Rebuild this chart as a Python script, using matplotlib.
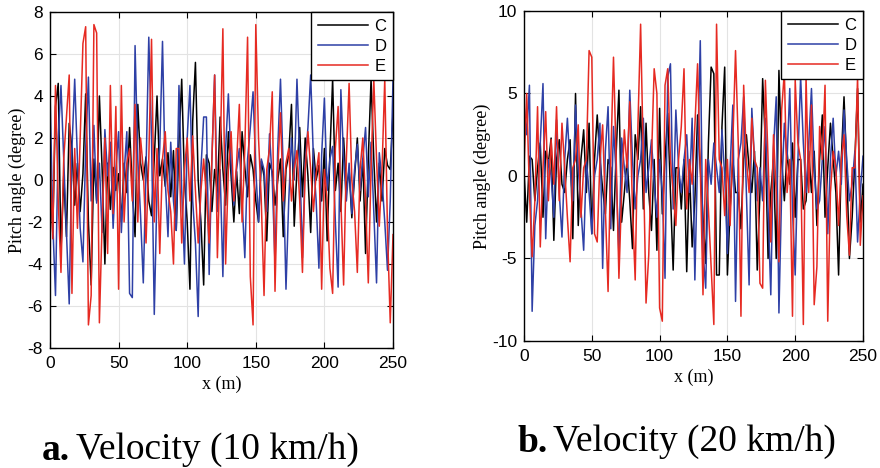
import numpy as np
import matplotlib
matplotlib.use("Agg")
import matplotlib.pyplot as plt

# distance along the track (m), one sample every 2 m
x = np.arange(0, 251, 2)

# ---- a. Velocity (10 km/h) ----
c10 = [0.5, -2.5, 3.5, 4.6, -3.4, 0.2, -2.7, 2.7, 1.5, -1.2, 0.8, -1.5, 0.3, 4.1, -2.0, -5.0,
       1.0, -1.0, 4.0, 0.5, -4.0, 0.8, -1.4, 0.6, -0.5, 0.3, -2.0, 0.8, -0.6, 2.5, -0.5, -2.7,
       3.6, 0.8, 0.0, 1.1, -1.0, -1.7, 1.0, 4.0, 0.2, 1.0, -0.3, 1.3, -0.8, 1.4, -2.4, 1.8,
       4.8, 0.0, -2.0, -5.2, 2.8, 5.6, 0.0, -2.0, -5.0, 1.2, 0.8, -1.5, 0.5, -0.6, 3.0, 0.5,
       -1.2, 2.3, 0.2, -2.0, 0.4, -1.6, 2.3, 0.6, -0.8, 1.2, 0.5, -1.0, -2.0, 0.9, 0.2, -2.9,
       0.8, 0.4, -1.2, 0.0, 1.0, -2.7, 0.5, 1.2, 3.6, -2.2, 0.5, 2.5, -0.8, 2.0, 0.2, -2.5,
       1.5, 0.0, 0.7, -1.0, 1.5, -2.9, 1.2, 4.8, -0.5, 0.8, -1.5, 2.0, -0.5, 0.5, -1.8, 0.2,
       2.0, -1.0, 1.0, -3.5, 1.0, 4.8, 1.0, -2.0, 0.8, -1.0, 1.5, 0.7, 0.5, 3.2]
d10 = [4.3, -2.0, -5.5, 2.0, 4.5, 1.0, -2.5, -5.9, 1.5, 4.8, 1.0, -2.3, -3.9, 1.5, 4.9, -1.0,
       2.6, -1.1, 0.8, -2.5, 2.4, 0.2, 1.8, -2.3, 0.5, 2.3, -2.5, 0.3, 2.3, -5.4, -5.6, 6.4,
       1.0, -1.7, -4.9, 0.5, 6.8, 2.0, -6.4, -0.5, 1.5, 6.6, 0.0, -2.7, 1.8, -1.0, -2.4, 4.5,
       -0.5, -4.0, 2.0, 4.5, -1.0, -3.0, -6.5, 0.5, 3.0, 3.0, -4.5, 1.0, 5.0, -1.5, 0.5, -4.6,
       1.5, 4.1, 0.8, -1.2, 0.5, 1.5, -1.0, -3.7, 1.0, 2.5, 4.2, 0.5, -2.0, 1.0, 0.5, -1.5,
       2.2, 0.0, -4.0, 1.5, 4.8, 0.5, -5.2, -1.0, 2.0, 0.0, 4.8, 1.0, -3.7, 0.8, 2.5, 5.0,
       1.0, -1.0, -4.2, 1.2, 3.9, -0.5, 1.0, 1.6, -2.0, -5.1, 4.3, 1.0, -1.0, 0.8, -1.6, 0.5,
       1.7, -0.5, 1.0, 2.5, -0.8, 1.8, -1.5, -4.9, 1.3, 0.0, -2.0, -4.3, -1.0, 4.8]
e10 = [1.2, -2.8, 4.5, -1.0, -4.4, 1.0, 3.0, 5.0, -5.4, 1.5, -2.3, 2.0, 6.5, 7.3, -6.9, -5.5,
       7.4, 7.0, -6.8, -2.0, 2.0, -3.5, 4.5, -1.6, 3.5, -5.2, 4.5, -2.0, 0.8, 1.5, -1.0, 3.6,
       -2.0, 2.0, 0.5, -3.0, 1.0, 6.7, -2.0, 1.5, -3.5, 1.0, 2.3, -0.5, -1.5, -4.0, 1.5, 1.5,
       -3.0, 0.5, 2.0, -1.0, 2.1, -0.5, -3.0, -0.5, 1.0, -0.8, -3.0, 1.0, 5.0, -3.7, 1.0, 7.2,
       -4.0, 0.5, 2.3, -1.0, 0.8, 3.6, -2.0, 1.5, 6.8, -4.6, -6.9, 7.4, 2.0, -1.0, -5.5, 0.5,
       1.5, 4.2, -5.3, 0.5, 3.2, -1.0, 0.8, 1.5, -1.0, 0.5, 1.4, -1.0, -4.4, 0.5, 2.3, 0.5,
       -1.5, 0.3, 1.3, -5.2, 0.5, -1.0, -4.2, -5.4, 1.5, 3.5, -1.0, -5.0, 1.0, 4.6, 0.0, -1.5,
       -4.4, 0.5, 2.0, -1.0, -4.9, 0.5, 4.8, 1.0, -2.2, 0.5, 4.8, -2.5, -6.8, -2.6]

# ---- b. Velocity (20 km/h) ----
c20 = [0.3, -2.8, 1.2, 1.0, -1.5, 0.5, 2.0, -2.5, 1.5, 0.8, 2.3, -3.9, 1.0, 2.2, -0.5, -1.0,
       1.0, 2.2, -3.8, 5.0, -3.0, 1.0, 2.8, -1.0, 3.2, -3.5, 1.0, 3.7, 1.0, -0.8, -2.3, 1.0,
       0.5, -3.3, 1.5, 5.2, -2.8, -1.0, 1.0, -1.5, -4.4, 2.5, 1.0, 4.2, -2.0, 3.2, -1.0, -3.3,
       1.0, -4.5, 4.1, -2.3, 1.0, 3.8, -1.0, -5.7, 0.5, 0.5, -2.0, 1.0, -5.8, 0.5, -4.3, -1.5,
       3.7, 0.5, -2.5, -5.3, 2.0, 6.6, 6.2, -6.0, -6.0, 3.0, 6.6, -6.0, -2.0, 1.0, -1.0, -1.0,
       -3.2, 1.0, 2.5, 0.5, -1.0, 1.5, -5.7, -1.0, 5.9, 2.0, -5.0, -1.0, 1.0, -5.0, 6.4, 1.0,
       -1.5, 1.5, -0.5, 2.0, -2.5, 1.0, 1.0, -2.0, -1.5, 1.5, -1.0, 1.5, -3.0, 1.0, 3.7, -2.5,
       0.5, 3.2, 1.0, -1.0, -6.0, 1.0, 4.8, 0.5, -5.0, -2.5, 1.0, 5.3, -2.8, -0.5]
d20 = [4.3, 2.5, 5.5, -8.2, -3.0, -1.5, 2.0, 5.6, -3.8, 1.0, 0.0, -2.5, 3.4, -1.0, -3.7, 1.0,
       3.5, 0.5, -1.5, 4.3, 0.5, -2.0, -4.5, 1.0, -1.0, -3.5, 0.0, 1.0, 3.2, -5.6, 1.5, 4.2,
       -3.2, 3.0, 0.0, -4.8, 2.3, 0.5, -1.0, 5.2, 1.0, -2.0, 0.0, 1.0, 3.5, -1.0, 0.5, 2.2,
       -0.5, -2.5, 1.0, -1.0, -6.2, 6.0, 6.8, -2.0, 4.0, 0.5, -1.0, 1.0, 2.5, -1.0, 3.5, -6.3,
       1.0, 8.2, -4.6, -6.8, 1.0, -0.5, 2.0, 0.5, -1.0, 2.8, 0.0, -4.7, 0.5, 4.3, -7.6, 1.0,
       2.0, 4.8, -1.0, -6.6, 4.1, 1.0, -1.5, 0.5, -1.5, 3.5, -2.0, -7.2, 1.7, 4.8, -8.3, -1.0,
       3.2, 1.0, 5.3, -2.0, -6.0, 1.0, 6.0, 2.0, -1.0, 2.0, 5.3, 0.5, -2.0, -1.5, 1.0, 3.0,
       -3.5, 1.0, 3.5, 0.0, 1.5, -0.5, 4.0, 1.0, -1.5, -0.5, 1.5, -4.0, -1.0, 1.2]
e20 = [0.5, 5.0, -1.0, -4.9, -1.5, 4.2, -4.3, 0.5, 3.9, -1.5, 2.2, -0.5, 4.2, -1.5, 3.2, 0.5,
       -2.5, -5.2, 0.5, 1.0, 3.1, -2.5, 0.5, 1.0, 7.6, 7.2, -3.5, -4.0, 1.0, 3.1, -2.0, -7.0,
       1.0, 7.2, 1.0, -6.2, -1.0, 2.8, 0.5, 4.5, -2.0, -6.3, 3.0, 9.2, 1.0, -7.7, -4.8, 1.0,
       6.5, 5.0, -8.0, -8.8, 5.5, 6.5, 1.0, -1.0, -3.0, 1.0, 3.0, 6.5, -2.0, 1.0, -0.5, 3.0,
       6.8, 0.5, -7.2, 1.0, -2.0, -5.5, -9.0, 9.2, 1.0, 0.5, -2.4, 1.0, -3.0, 2.0, 7.6, 2.0,
       -8.5, 5.5, 1.0, -1.0, 3.5, 1.0, 0.5, -6.5, -6.8, 5.8, 1.0, -4.0, 2.5, -1.0, -5.2, 4.0,
       6.3, -1.0, 1.0, -8.5, 5.8, 2.0, 1.0, -9.0, 6.0, -1.0, 4.3, -7.8, -5.5, 3.0, 1.0, 5.5,
       -8.8, -1.0, 1.5, 0.5, -3.0, 1.0, 2.5, -2.4, -4.8, 0.5, 0.5, 6.0, -4.2, -1.2]

labels = ["C", "D", "E"]
colors = ["#000000", "#2e40a6", "#e62a22"]

serif = ["Liberation Serif", "DejaVu Serif"]
sans = ["Liberation Sans", "DejaVu Sans"]

plt.rcParams["font.family"] = sans
plt.rcParams["axes.unicode_minus"] = False

fig = plt.figure(figsize=(8.8, 4.68), dpi=100)
ax1 = fig.add_axes([50 / 880, 1 - 348 / 468, 343 / 880, 336 / 468])
ax2 = fig.add_axes([524 / 880, 1 - 341 / 468, 339 / 880, 330 / 468])


def draw_panel(ax, series, ylim, yticks):
    for y, lab, col in zip(series, labels, colors):
        ax.plot(x, y, color=col, lw=1.1, label=lab)
    ax.set_xlim(0, 250)
    ax.set_ylim(*ylim)
    ax.set_xticks([0, 50, 100, 150, 200, 250])
    ax.set_yticks(yticks)
    ax.grid(True, color="#e3e3e3", lw=0.8)
    ax.set_axisbelow(True)
    ax.tick_params(direction="in", top=True, right=True, labelsize=12.5, length=4,
                   width=0.8)
    ax.tick_params(axis="x", pad=6)
    ax.tick_params(axis="y", pad=5)
    for s in ax.spines.values():
        s.set_linewidth(1.0)
        s.set_color("black")
    ax.set_xlabel("x (m)", family=serif, fontsize=13, labelpad=3)
    ax.set_ylabel("Pitch angle (degree)", family=serif, fontsize=13, labelpad=1)
    leg = ax.legend(loc="upper right", fontsize=12, frameon=True, fancybox=False,
                    borderaxespad=0, handlelength=3.0, handletextpad=0.4,
                    borderpad=0.4, labelspacing=0.3)
    leg.get_frame().set_edgecolor("black")
    leg.get_frame().set_linewidth(1.0)
    leg.get_frame().set_alpha(1)


draw_panel(ax1, [c10, d10, e10], (-8, 8), np.arange(-8, 9, 2))
draw_panel(ax2, [c20, d20, e20], (-10, 10), [-10, -5, 0, 5, 10])

# captions below each panel: bold letter then normal text
fig.canvas.draw()
r = fig.canvas.get_renderer()
for (cx, cy, letter, rest) in [(42, 450, "a.", "Velocity (10 km/h)"),
                                (517, 442, "b.", "Velocity (20 km/h)")]:
    t = fig.text(cx / 880, 1 - cy / 468, letter, family=serif, fontsize=27,
                 fontweight="bold", va="center", ha="left")
    bb = t.get_window_extent(renderer=r)
    fig.text(bb.x1 / 880 + 6 / 880, 1 - cy / 468, rest, family=serif, fontsize=27,
             va="center", ha="left")

fig.savefig("out.png", dpi=100)
